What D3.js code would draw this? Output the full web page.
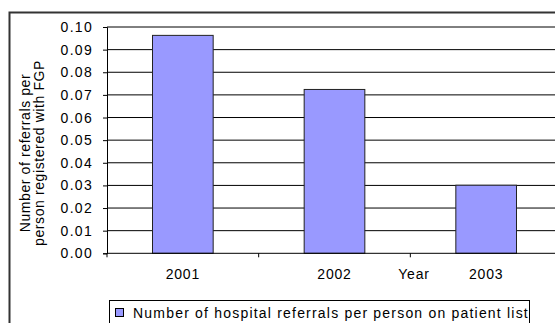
<!DOCTYPE html>
<html lang="en">
<head>
    <meta charset="UTF-8">
    <title>Hospital referrals per person</title>
    <script src="https://d3js.org/d3.v7.min.js"></script>
    <style>
        body { margin: 0; background: #fff; }
        svg { display: block; font-family: "Liberation Sans", Arial, sans-serif; }
        .tick text { font-size: 14px; fill: #000; letter-spacing: 1.3px; }
    </style>
</head>
<body>
<svg width="555" height="323"></svg>
<script>
    // categories and values
    const years = ["2001", "2002", "2003"];
    const referrals = [0.0963, 0.0724, 0.0301];
    const yTicks = [0, 0.01, 0.02, 0.03, 0.04, 0.05, 0.06, 0.07, 0.08, 0.09, 0.10];
    const seriesName = "Number of hospital referrals per person on patient list";

    const svg = d3.select("svg");
    const plotLeft = 107, plotRight = 562, plotTop = 27, plotBottom = 253.3;

    // outer chart frame (cropped at right and bottom)
    svg.append("rect")
        .attr("x", 9.5).attr("y", 12.5)
        .attr("width", 600).attr("height", 400)
        .attr("fill", "#fff").attr("stroke", "#333").attr("stroke-width", 2);

    const x = d3.scaleBand()
        .domain(years)
        .range([plotLeft, plotRight])
        .paddingInner(0.6)
        .paddingOuter(0.3);

    const y = d3.scaleLinear()
        .domain([0, 0.10])
        .range([plotBottom, plotTop]);

    // gridlines
    svg.append("g")
        .selectAll("line")
        .data(yTicks.slice(1))
        .enter().append("line")
        .attr("x1", plotLeft).attr("x2", plotRight)
        .attr("y1", d => y(d)).attr("y2", d => y(d))
        .attr("stroke", "#000").attr("stroke-width", 1);

    // bars
    svg.append("g")
        .selectAll("rect")
        .data(years.map((d, i) => ({year: d, value: referrals[i]})))
        .enter().append("rect")
        .attr("x", d => x(d.year))
        .attr("y", d => y(d.value))
        .attr("width", x.bandwidth())
        .attr("height", d => y(0) - y(d.value))
        .attr("fill", "#9999ff")
        .attr("stroke", "#222").attr("stroke-width", 1);

    // y axis
    const yAxis = svg.append("g")
        .attr("transform", `translate(${plotLeft},0)`)
        .call(d3.axisLeft(y).tickValues(yTicks).tickFormat(d3.format(".2f")).tickSize(4).tickPadding(10));
    yAxis.select(".domain").attr("stroke", "#000");
    yAxis.selectAll(".tick line").attr("stroke", "#000");

    // x axis: ticks between categories, labels drawn separately
    const step = x.step();
    const bounds = d3.range(years.length + 1).map(i => plotLeft + i * step);
    svg.append("line")
        .attr("x1", plotLeft).attr("x2", plotRight)
        .attr("y1", y(0)).attr("y2", y(0))
        .attr("stroke", "#000");
    svg.append("g")
        .selectAll("line")
        .data(bounds)
        .enter().append("line")
        .attr("x1", d => d).attr("x2", d => d)
        .attr("y1", y(0)).attr("y2", y(0) + 4)
        .attr("stroke", "#000");

    svg.append("g")
        .selectAll("text")
        .data(years)
        .enter().append("text")
        .attr("x", d => x(d) + x.bandwidth() / 2)
        .attr("y", 279)
        .attr("text-anchor", "middle")
        .attr("font-size", 14)
        .attr("letter-spacing", 0.8)
        .text(d => d);

    // x axis title
    svg.append("text")
        .attr("x", 414).attr("y", 279)
        .attr("text-anchor", "middle")
        .attr("font-size", 14)
        .attr("letter-spacing", 0.8)
        .text("Year");

    // y axis title
    const yTitle = svg.append("text")
        .attr("transform", "translate(0,153) rotate(-90)")
        .attr("text-anchor", "middle")
        .attr("font-size", 14)
        .attr("letter-spacing", 0.6);
    yTitle.append("tspan").attr("x", 0).attr("y", 30).text("Number of referrals per");
    yTitle.append("tspan").attr("x", 0).attr("y", 44).text("person registered with FGP");

    // legend
    const legend = svg.append("g");
    legend.append("rect")
        .attr("x", 109.5).attr("y", 300.5)
        .attr("width", 420).attr("height", 40)
        .attr("fill", "#fff").attr("stroke", "#000");
    legend.append("rect")
        .attr("x", 115.5).attr("y", 308.5)
        .attr("width", 8).attr("height", 8)
        .attr("fill", "#9999ff").attr("stroke", "#000");
    legend.append("text")
        .attr("x", 133).attr("y", 318)
        .attr("font-size", 14)
        .attr("letter-spacing", 1.2)
        .text(seriesName);
</script>
</body>
</html>
